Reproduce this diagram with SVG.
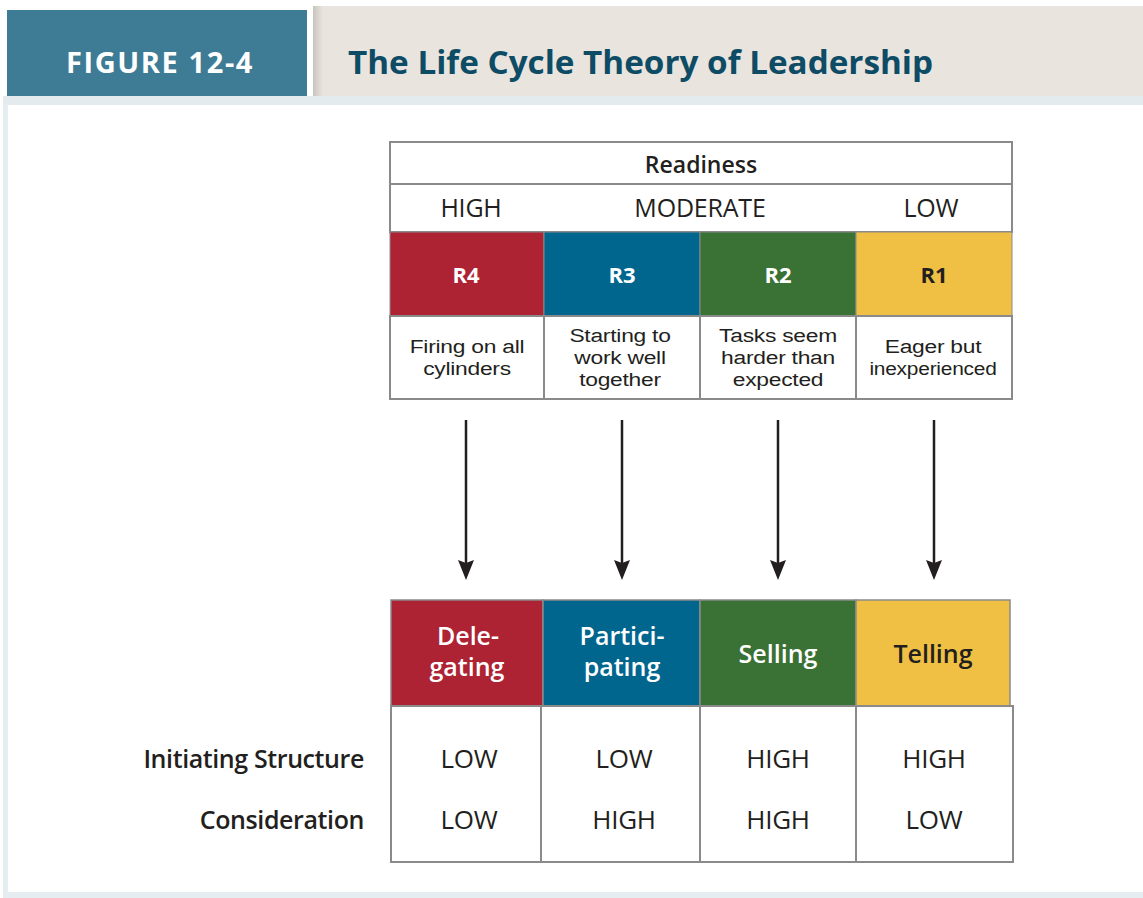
<svg xmlns="http://www.w3.org/2000/svg" width="1143" height="898" viewBox="0 0 1143 898">
  <defs>
    <style>
      .t { font-family: "Open Sans", "Liberation Sans", sans-serif; fill: #231f20; text-anchor: middle; }
      .w { fill: #ffffff; }
      .b { font-weight: bold; }
      .cell { fill: #ffffff; stroke: #8a8a8a; stroke-width: 2; }
      .col { stroke: #8a8a8a; stroke-width: 2; }
      .arrow { stroke: #231f20; stroke-width: 2.5; fill: none; marker-end: url(#ah); }
      .small { font-family: "Liberation Sans", Arial, sans-serif; font-size: 19px; letter-spacing: -0.2px; fill: #231f20; text-anchor: middle; }
      .lvl { font-size: 26px; letter-spacing: -0.3px; }
      .rng { font-size: 25px; letter-spacing: -0.2px; }
      .style { font-size: 25px; font-weight: 600; }
      .rl { font-size: 25px; font-weight: 600; letter-spacing: -0.4px; text-anchor: end; }
    </style>
    <marker id="ah" viewBox="0 0 20 16" refX="6" refY="8" markerWidth="20" markerHeight="16" markerUnits="userSpaceOnUse" orient="auto">
      <path d="M0,0 L20,8 L0,16 L3,8 z" fill="#231f20"/>
    </marker>
    <linearGradient id="shade" x1="0" y1="0" x2="1" y2="0">
      <stop offset="0" stop-color="#c9c4be"/>
      <stop offset="1" stop-color="#e9e4de"/>
    </linearGradient>
  </defs>

  <!-- page frame -->
  <rect x="0" y="0" width="1143" height="898" fill="#ffffff"/>
  <rect x="3" y="96" width="5" height="800" fill="#e6edf1"/>
  <rect x="3" y="892" width="1140" height="6" fill="#e6edf1"/>
  <rect x="3" y="96" width="1140" height="9" fill="#e3ebef"/>

  <!-- header -->
  <g id="header">
    <rect x="7" y="10" width="300" height="86" fill="#3e7b95"/>
    <text x="160" y="73" font-family="Open Sans, Liberation Sans, sans-serif" font-weight="bold" font-size="29" letter-spacing="1.6" fill="#ffffff" text-anchor="middle">FIGURE 12-4</text>
    <rect x="313" y="6" width="830" height="90" fill="#e9e4de"/>
    <rect x="313" y="6" width="10" height="90" fill="url(#shade)"/>
    <text x="348" y="74" font-family="Open Sans, Liberation Sans, sans-serif" font-weight="bold" font-size="32" fill="#0e4c66" textLength="585" lengthAdjust="spacingAndGlyphs">The Life Cycle Theory of Leadership</text>
  </g>

  <!-- readiness table -->
  <g id="readiness">
    <rect class="cell" x="390" y="142" width="622" height="42"/>
    <text class="t" x="701" y="173" font-size="23" font-weight="600">Readiness</text>
    <rect class="cell" x="390" y="184" width="622" height="48"/>
    <text class="t rng" x="471" y="217">HIGH</text>
    <text class="t rng" x="700" y="217">MODERATE</text>
    <text class="t rng" x="931" y="217">LOW</text>
  </g>

  <g id="r4">
    <rect x="390" y="232" width="154" height="84" fill="#ae2334" stroke="#8a8a8a" stroke-width="1"/>
    <text class="t b w" x="466" y="283" font-size="22">R4</text>
    <rect class="cell" x="390" y="316" width="154" height="83"/>
    <text class="small" transform="translate(467 353) scale(1.2 1)">Firing on all</text>
    <text class="small" transform="translate(467 375) scale(1.2 1)">cylinders</text>
  </g>
  <g id="r3">
    <rect x="544" y="232" width="156" height="84" fill="#00668e" stroke="#8a8a8a" stroke-width="1"/>
    <text class="t b w" x="622" y="283" font-size="22">R3</text>
    <rect class="cell" x="544" y="316" width="156" height="83"/>
    <text class="small" transform="translate(620 342) scale(1.2 1)">Starting to</text>
    <text class="small" transform="translate(620 364) scale(1.2 1)">work well</text>
    <text class="small" transform="translate(620 386) scale(1.2 1)">together</text>
  </g>
  <g id="r2">
    <rect x="700" y="232" width="156" height="84" fill="#3a7134" stroke="#8a8a8a" stroke-width="1"/>
    <text class="t b w" x="778" y="283" font-size="22">R2</text>
    <rect class="cell" x="700" y="316" width="156" height="83"/>
    <text class="small" transform="translate(778 342) scale(1.2 1)">Tasks seem</text>
    <text class="small" transform="translate(778 364) scale(1.2 1)">harder than</text>
    <text class="small" transform="translate(778 386) scale(1.2 1)">expected</text>
  </g>
  <g id="r1">
    <rect x="856" y="232" width="156" height="84" fill="#f0c044" stroke="#8a8a8a" stroke-width="1"/>
    <text class="t b" x="934" y="283" font-size="22">R1</text>
    <rect class="cell" x="856" y="316" width="156" height="83"/>
    <text class="small" transform="translate(933 353) scale(1.2 1)">Eager but</text>
    <text class="small" transform="translate(933 375) scale(1.1 1)">inexperienced</text>
  </g>

  <!-- connectors -->
  <g id="connectors">
    <line class="arrow" x1="466" y1="420" x2="466" y2="566"/>
    <line class="arrow" x1="622" y1="420" x2="622" y2="566"/>
    <line class="arrow" x1="778" y1="420" x2="778" y2="566"/>
    <line class="arrow" x1="934" y1="420" x2="934" y2="566"/>
  </g>

  <!-- leadership styles -->
  <g id="delegating">
    <rect x="391" y="600" width="152" height="106" fill="#ae2334" stroke="#8a8a8a" stroke-width="1.5"/>
    <text class="t w style" x="468" y="645">Dele-</text>
    <text class="t w style" x="467" y="676">gating</text>
  </g>
  <g id="participating">
    <rect x="543" y="600" width="157" height="106" fill="#00668e" stroke="#8a8a8a" stroke-width="1.5"/>
    <text class="t w style" x="622" y="645">Partici-</text>
    <text class="t w style" x="622" y="676">pating</text>
  </g>
  <g id="selling">
    <rect x="700" y="600" width="156" height="106" fill="#3a7134" stroke="#8a8a8a" stroke-width="1.5"/>
    <text class="t w style" x="778" y="663">Selling</text>
  </g>
  <g id="telling">
    <rect x="856" y="600" width="154" height="106" fill="#f0c044" stroke="#8a8a8a" stroke-width="1.5"/>
    <text class="t style" x="933" y="663">Telling</text>
  </g>

  <!-- behaviour levels -->
  <g id="levels">
    <rect class="cell" x="391" y="706" width="622" height="156"/>
    <line class="col" x1="541" y1="706" x2="541" y2="862"/>
    <line class="col" x1="700" y1="706" x2="700" y2="862"/>
    <line class="col" x1="856" y1="706" x2="856" y2="862"/>
    <text class="t lvl" x="469" y="768">LOW</text>
    <text class="t lvl" x="624" y="768">LOW</text>
    <text class="t lvl" x="778" y="768">HIGH</text>
    <text class="t lvl" x="934" y="768">HIGH</text>
    <text class="t lvl" x="469" y="829">LOW</text>
    <text class="t lvl" x="624" y="829">HIGH</text>
    <text class="t lvl" x="778" y="829">HIGH</text>
    <text class="t lvl" x="934" y="829">LOW</text>
  </g>

  <g id="row-labels">
    <text class="t rl" x="364" y="768">Initiating Structure</text>
    <text class="t rl" x="364" y="829">Consideration</text>
  </g>
</svg>
